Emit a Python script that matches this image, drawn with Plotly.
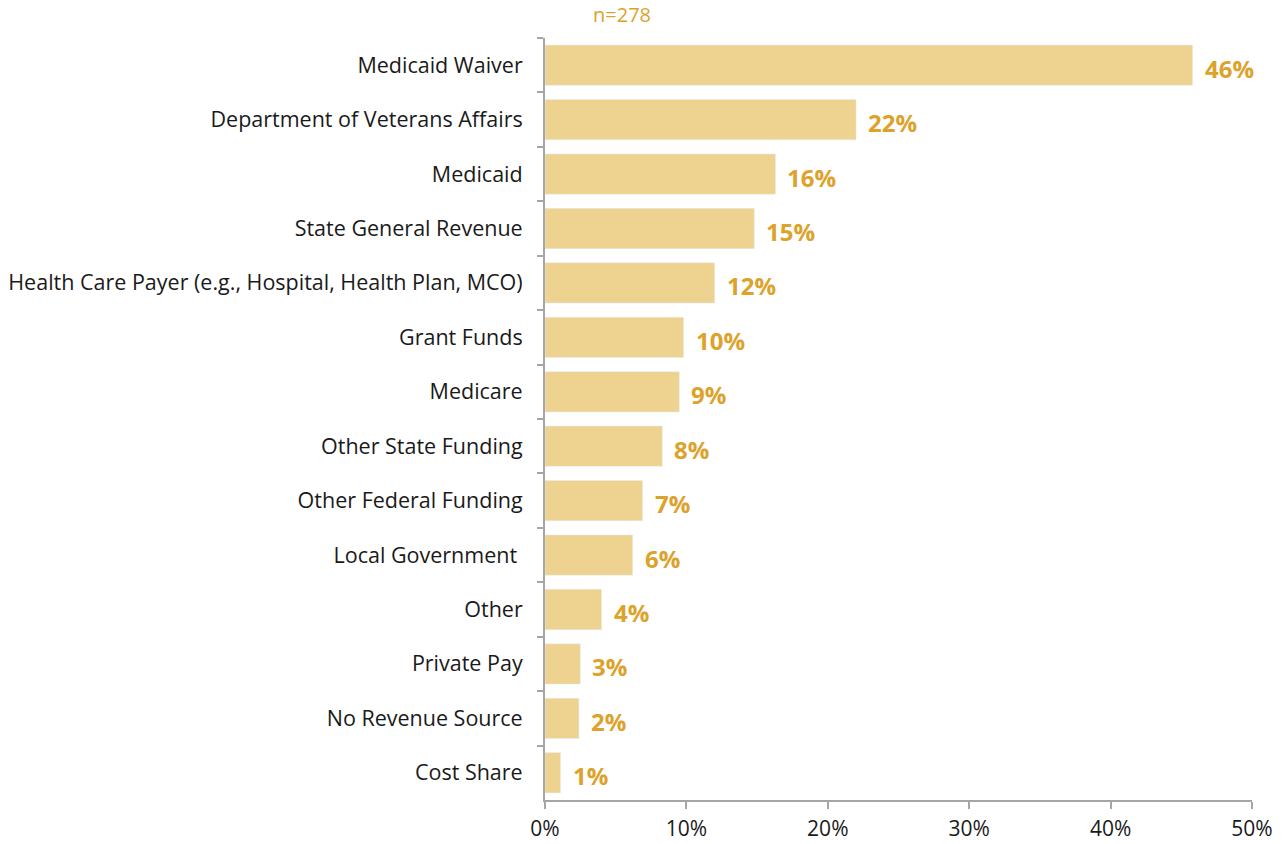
import plotly.graph_objects as go

categories = [
    "Medicaid Waiver",
    "Department of Veterans Affairs",
    "Medicaid",
    "State General Revenue",
    "Health Care Payer (e.g., Hospital, Health Plan, MCO)",
    "Grant Funds",
    "Medicare",
    "Other State Funding",
    "Other Federal Funding",
    "Local Government ",
    "Other",
    "Private Pay",
    "No Revenue Source",
    "Cost Share",
]
values = [45.8, 22.0, 16.3, 14.8, 12.0, 9.8, 9.5, 8.3, 6.9, 6.2, 4.0, 2.5, 2.4, 1.1]
labels = ["46%", "22%", "16%", "15%", "12%", "10%", "9%", "8%", "7%", "6%", "4%", "3%", "2%", "1%"]
tick_vals = [0, 10, 20, 30, 40, 50]
tick_text = ["0%", "10%", "20%", "30%", "40%", "50%"]

BAR = "#EDD290"
GOLD = "#DCA22A"
AXIS = "#A6A6A6"
FONT = "Open Sans, sans-serif"

fig = go.Figure(go.Bar(
    x=values,
    y=categories,
    orientation="h",
    marker_color=BAR,
    hoverinfo="x+y",
))

# value labels a little right of each bar end
for cat, val, lab in zip(categories, values, labels):
    fig.add_annotation(
        x=val, y=cat, text=lab, showarrow=False,
        xanchor="left", xshift=10, yshift=-3,
        font=dict(color=GOLD, size=24, family=FONT, weight="bold"),
    )

fig.add_annotation(
    text="n=278", x=0.109, y=1.0, xref="paper", yref="paper",
    xanchor="center", yanchor="middle", yshift=24, showarrow=False,
    font=dict(color=GOLD, size=20, family=FONT),
)

fig.update_layout(
    width=1282,
    height=844,
    margin=dict(l=545, r=30, t=38, b=44),
    plot_bgcolor="white",
    paper_bgcolor="white",
    bargap=0.26,
    showlegend=False,
    font=dict(family=FONT, size=21, color="#1a1a1a"),
)

fig.update_xaxes(
    range=[0, 50],
    tickvals=tick_vals,
    ticktext=tick_text,
    showgrid=False,
    zeroline=False,
    showline=True,
    linecolor=AXIS,
    linewidth=2,
    ticks="outside",
    tickcolor=AXIS,
    ticklen=7,
    tickwidth=2,
    tickfont=dict(size=21),
    ticklabelstandoff=2,
    automargin=False,
)

fig.update_yaxes(
    autorange="reversed",
    showgrid=False,
    showline=True,
    linecolor=AXIS,
    linewidth=2,
    ticks="outside",
    tickson="boundaries",
    tickcolor=AXIS,
    ticklen=6,
    tickwidth=2,
    tickfont=dict(size=21.5),
    ticklabelstandoff=16,
    automargin=False,
)

# drop the default body margin so the figure sits flush in the window
fig.write_html(
    "out.html",
    config={"displayModeBar": False},
    post_script="document.body.style.margin='0';",
)
